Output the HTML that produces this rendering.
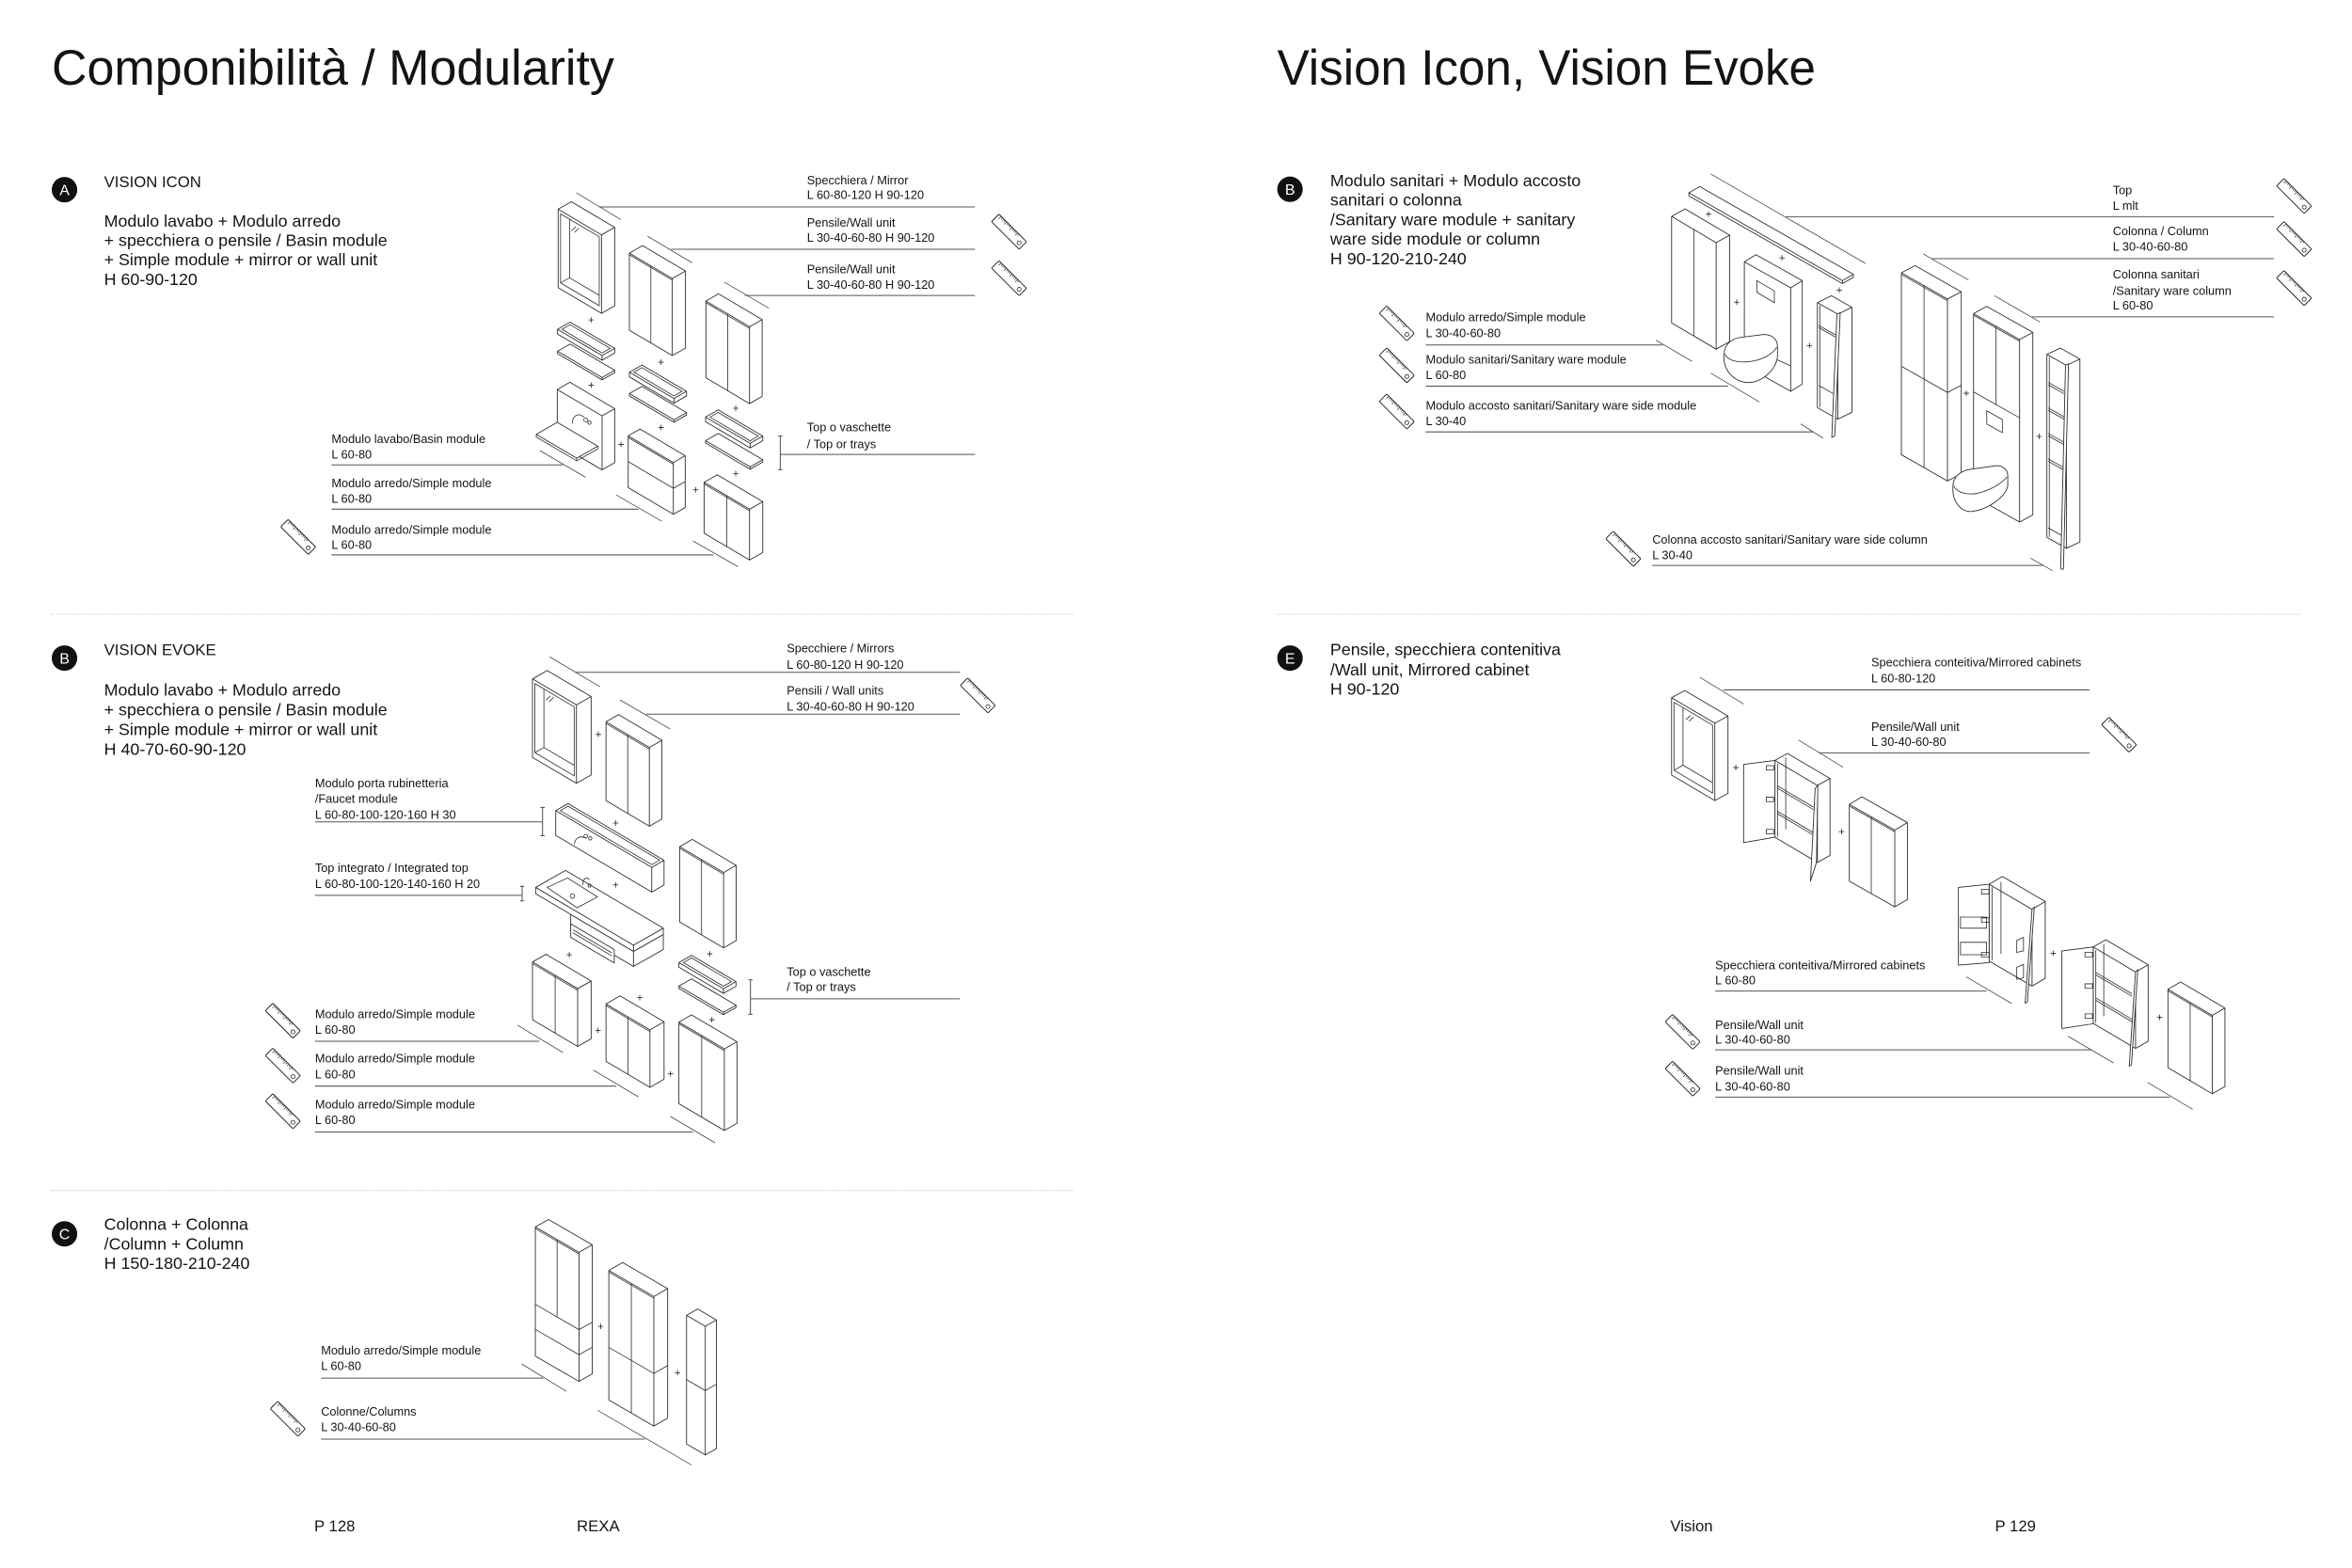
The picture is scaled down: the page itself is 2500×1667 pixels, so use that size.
<!DOCTYPE html>
<html><head><meta charset="utf-8"><style>
html,body{margin:0;padding:0;background:#fff}
svg{display:block}
text{font-family:"Liberation Sans",Arial,sans-serif;fill:#141414}
.s{font-size:8px}
.m{font-size:11.2px}
.bx{fill:#fff;stroke:#2b2b2b;stroke-width:.55;stroke-linejoin:round}
.ln{fill:none;stroke:#2b2b2b;stroke-width:.5}
.ld{fill:none;stroke:#555;stroke-width:.65}
.dm{fill:none;stroke:#444;stroke-width:.5}
.pl{fill:none;stroke:#222;stroke-width:.5}
.sep{fill:none;stroke:#9a9a9a;stroke-width:.5;stroke-dasharray:.6 1.2}
</style></head><body>
<svg width="2500" height="1667" viewBox="0 0 1568 1045.5" preserveAspectRatio="none" xmlns="http://www.w3.org/2000/svg">
<defs>
<g id="ru"><g transform="rotate(45)">
<rect x="-13" y="-3.5" width="26" height="7" rx="0.8" fill="#fff" stroke="#222" stroke-width="0.6"/>
<path d="M-11,-3.5v2.4M-9.7,-3.5v1.4M-8.4,-3.5v1.4M-7.1,-3.5v1.4M-5.8,-3.5v2.4M-4.5,-3.5v1.4M-3.2,-3.5v1.4M-1.9,-3.5v1.4M-0.6,-3.5v2.4M0.7,-3.5v1.4M2,-3.5v1.4M3.3,-3.5v1.4M4.6,-3.5v2.4M5.9,-3.5v1.4" stroke="#222" stroke-width="0.4" fill="none"/>
<circle cx="10" cy="0.5" r="1.3" fill="none" stroke="#222" stroke-width="0.5"/>
</g></g>
</defs>
<rect width="1568" height="1045.5" fill="#fff"/>

<!-- Titles -->
<text x="34.5" y="56.5" font-size="33" textLength="375" lengthAdjust="spacingAndGlyphs">Componibilità / Modularity</text>
<text x="851.5" y="56.5" font-size="33" textLength="359" lengthAdjust="spacingAndGlyphs">Vision Icon, Vision Evoke</text>

<!-- separators -->
<path class="sep" d="M34,409.6H716M851,409.6H1535M34,793.8H716"/>

<!-- Badges -->
<circle cx="43" cy="126.5" r="8.5" fill="#111"/><text x="43" y="130.2" font-size="10" text-anchor="middle" style="fill:#fff">A</text>
<circle cx="43" cy="438.8" r="8.5" fill="#111"/><text x="43" y="442.5" font-size="10" text-anchor="middle" style="fill:#fff">B</text>
<circle cx="43" cy="822.7" r="8.5" fill="#111"/><text x="43" y="826.4" font-size="10" text-anchor="middle" style="fill:#fff">C</text>
<circle cx="860" cy="126.2" r="8.5" fill="#111"/><text x="860" y="129.9" font-size="10" text-anchor="middle" style="fill:#fff">B</text>
<circle cx="860" cy="438.8" r="8.5" fill="#111"/><text x="860" y="442.5" font-size="10" text-anchor="middle" style="fill:#fff">E</text>

<!-- Section A text -->
<text x="69.4" y="124.7" font-size="10.5">VISION ICON</text>
<text class="m" x="69.4" y="151">Modulo lavabo + Modulo arredo</text>
<text class="m" x="69.4" y="164">+ specchiera o pensile / Basin module</text>
<text class="m" x="69.4" y="177">+ Simple module + mirror or wall unit</text>
<text class="m" x="69.4" y="190">H 60-90-120</text>
<text class="s" x="538" y="122.8">Specchiera / Mirror</text>
<text class="s" x="538" y="132.5">L 60-80-120 H 90-120</text>
<text class="s" x="538" y="151">Pensile/Wall unit</text>
<text class="s" x="538" y="161.2">L 30-40-60-80 H 90-120</text>
<text class="s" x="538" y="182.1">Pensile/Wall unit</text>
<text class="s" x="538" y="192.6">L 30-40-60-80 H 90-120</text>
<text class="s" x="538" y="287.5">Top o vaschette</text>
<text class="s" x="538" y="298.7">/ Top or trays</text>
<text class="s" x="221" y="295.3">Modulo lavabo/Basin module</text>
<text class="s" x="221" y="305.8">L 60-80</text>
<text class="s" x="221" y="324.9">Modulo arredo/Simple module</text>
<text class="s" x="221" y="335.3">L 60-80</text>
<text class="s" x="221" y="356">Modulo arredo/Simple module</text>
<text class="s" x="221" y="365.9">L 60-80</text>

<!-- Section B left text -->
<text x="69.4" y="436.8" font-size="10.5">VISION EVOKE</text>
<text class="m" x="69.4" y="463.7">Modulo lavabo + Modulo arredo</text>
<text class="m" x="69.4" y="476.9">+ specchiera o pensile / Basin module</text>
<text class="m" x="69.4" y="490.1">+ Simple module + mirror or wall unit</text>
<text class="m" x="69.4" y="503.3">H 40-70-60-90-120</text>
<text class="s" x="524.5" y="435">Specchiere / Mirrors</text>
<text class="s" x="524.5" y="445.8">L 60-80-120 H 90-120</text>
<text class="s" x="524.5" y="463.2">Pensili / Wall units</text>
<text class="s" x="524.5" y="473.7">L 30-40-60-80 H 90-120</text>
<text class="s" x="524.5" y="650.6">Top o vaschette</text>
<text class="s" x="524.5" y="660.6">/ Top or trays</text>
<text class="s" x="210" y="524.8">Modulo porta rubinetteria</text>
<text class="s" x="210" y="535.2">/Faucet module</text>
<text class="s" x="210" y="546">L 60-80-100-120-160 H 30</text>
<text class="s" x="210" y="581.4">Top integrato / Integrated top</text>
<text class="s" x="210" y="592.1">L 60-80-100-120-140-160 H 20</text>
<text class="s" x="210" y="678.8">Modulo arredo/Simple module</text>
<text class="s" x="210" y="689.3">L 60-80</text>
<text class="s" x="210" y="708.5">Modulo arredo/Simple module</text>
<text class="s" x="210" y="719">L 60-80</text>
<text class="s" x="210" y="739.1">Modulo arredo/Simple module</text>
<text class="s" x="210" y="749.6">L 60-80</text>

<!-- Section C text -->
<text class="m" x="69.4" y="820">Colonna + Colonna</text>
<text class="m" x="69.4" y="833.1">/Column + Column</text>
<text class="m" x="69.4" y="846.1">H 150-180-210-240</text>
<text class="s" x="214" y="903.2">Modulo arredo/Simple module</text>
<text class="s" x="214" y="913.6">L 60-80</text>
<text class="s" x="214" y="944">Colonne/Columns</text>
<text class="s" x="214" y="954.4">L 30-40-60-80</text>

<!-- Right B text -->
<text class="m" x="886.8" y="124.1">Modulo sanitari + Modulo accosto</text>
<text class="m" x="886.8" y="137.1">sanitari o colonna</text>
<text class="m" x="886.8" y="150.1">/Sanitary ware module + sanitary</text>
<text class="m" x="886.8" y="163.1">ware side module or column</text>
<text class="m" x="886.8" y="176.1">H 90-120-210-240</text>
<text class="s" x="1408.5" y="129.4">Top</text>
<text class="s" x="1408.5" y="139.8">L mlt</text>
<text class="s" x="1408.5" y="156.8">Colonna / Column</text>
<text class="s" x="1408.5" y="167.2">L 30-40-60-80</text>
<text class="s" x="1408.5" y="185.5">Colonna sanitari</text>
<text class="s" x="1408.5" y="196.5">/Sanitary ware column</text>
<text class="s" x="1408.5" y="206.4">L 60-80</text>
<text class="s" x="950.5" y="214.3">Modulo arredo/Simple module</text>
<text class="s" x="950.5" y="224.7">L 30-40-60-80</text>
<text class="s" x="950.5" y="242.3">Modulo sanitari/Sanitary ware module</text>
<text class="s" x="950.5" y="252.7">L 60-80</text>
<text class="s" x="950.5" y="273.1">Modulo accosto sanitari/Sanitary ware side module</text>
<text class="s" x="950.5" y="283.5">L 30-40</text>
<text class="s" x="1101.5" y="362.5">Colonna accosto sanitari/Sanitary ware side column</text>
<text class="s" x="1101.5" y="372.9">L 30-40</text>

<!-- E text -->
<text class="m" x="886.8" y="436.8">Pensile, specchiera contenitiva</text>
<text class="m" x="886.8" y="450.3">/Wall unit, Mirrored cabinet</text>
<text class="m" x="886.8" y="463.2">H 90-120</text>
<text class="s" x="1247.5" y="444.3">Specchiera conteitiva/Mirrored cabinets</text>
<text class="s" x="1247.5" y="455">L 60-80-120</text>
<text class="s" x="1247.5" y="487.4">Pensile/Wall unit</text>
<text class="s" x="1247.5" y="497.4">L 30-40-60-80</text>
<text class="s" x="1143.5" y="646.2">Specchiera conteitiva/Mirrored cabinets</text>
<text class="s" x="1143.5" y="656.4">L 60-80</text>
<text class="s" x="1143.5" y="686.1">Pensile/Wall unit</text>
<text class="s" x="1143.5" y="696">L 30-40-60-80</text>
<text class="s" x="1143.5" y="716.7">Pensile/Wall unit</text>
<text class="s" x="1143.5" y="727.2">L 30-40-60-80</text>

<!-- footer -->
<text x="209.5" y="1021" font-size="10.5">P 128</text>
<text x="384.5" y="1021" font-size="10.5">REXA</text>
<text x="1113.5" y="1021" font-size="10.5">Vision</text>
<text x="1330" y="1021" font-size="10.5">P 129</text>

<!-- Leader lines -->
<path class="ld" d="M399.3,138H650M447.4,166.2H650M496.5,197H650M520.2,303H650M221,310H375.3M221,339.5H425.4M221,370H475.6
M383.6,448.3H640M430.7,476.2H640M210,548H361.7M210,597H348.1M500.3,666H640M210,694.3H359.6M210,724.2H410.8M210,754.8H462
M214,918.9H362M214,959.6H430
M1190.7,144.5H1516M1287.9,172.5H1516M1354.8,211.3H1516M950.5,230H1108.3M950.5,257.5H1152M950.5,288H1208.4M1101.5,377H1362.1
M1148.9,460H1393M1212.6,502H1393M1143.5,660.8H1324.4M1143.5,700H1394.4M1143.5,731.5H1446.7"/>
<!-- brackets -->
<path class="ld" d="M520.2,290.6V313.2M518.8,290.6h2.8M518.8,313.2h2.8
M361.7,538.4V557.2M360.3,538.4h2.8M360.3,557.2h2.8
M348.1,591V600.7M346.7,591h2.8M346.7,600.7h2.8
M500.3,653.3V676.3M498.9,653.3h2.8M498.9,676.3h2.8"/>

<!-- Dimension lines -->
<path class="dm" d="M384.3,128.6L413.9,146.4M431.7,157.5L461.4,175.2M483,188.2L512.6,205.5M360,300.5L390.3,318.2M410.8,330L441.1,347.5M462,360.7L491.9,377.8
M366.5,438L400,457.9M413.3,466.7L446.8,486.1M345,683.6L375.3,701.8M395.6,713.5L425.5,731.3M446.8,744.3L476.7,762
M347.7,909.4L377.7,927.8M398.5,940.4L461,976.8
M1140.5,116L1243.6,175.6M1103.9,226.8L1128,240.9M1140.5,248.8L1172.9,268M1200.5,282.7L1215.3,292.1M1282.2,169.3L1312.3,186.7M1329.7,197.2L1360,214.7M1353.7,372.2L1368.4,380.5
M1133.2,451.6L1162.4,469.4M1199,493.4L1228.7,511.6M1310.8,651.3L1341.1,669.1M1378.8,691L1409.1,708.8M1431.7,721.7L1461.8,739.7"/>

<!-- ===== Section A drawings ===== -->
<path class="bx" d="M372.1,139.5 l8.8,-5 l28.9,17.1 l0,52.3 l-8.8,5 l-28.9,-17.1 z l28.9,17.1 l0,52.3 m0,-52.3 l8.8,-5"/>
<path class="ln" d="M373.7,142.6 l25.8,15.2 l0,46 l-25.8,-15.2 z m6,3.5 l0,39.1 l19.8,11.7 m-19.8,-11.7 l-6,3.4 M381,154 l3,-3 m-1,4 l3,-3"/>
<path class="bx" d="M419.6,168.8 l8.8,-5 l28.6,16.9 l0,51.4 l-8.8,5 l-28.6,-16.9 z l28.6,16.9 l0,51.4 m0,-51.4 l8.8,-5"/>
<path class="ln" d="M433.9,177.2 l0,51.4 M419.6,169.9 l28.6,16.9"/>
<path class="bx" d="M470.6,200.7 l8.4,-4.8 l29.1,17.2 l0,51.2 l-8.4,4.8 l-29.1,-17.2 z l29.1,17.2 l0,51.2 m0,-51.2 l8.4,-4.8"/>
<path class="ln" d="M485.2,209.3 l0,51.2 M470.6,201.8 l29.1,17.2"/>
<!-- trays A -->
<path class="bx" d="M371.7,219.6 l8.4,-4.8 l29.7,17.5 l0,3.1 l-8.4,4.8 l-29.7,-17.5 z l29.7,17.5 l0,3.1 m0,-3.1 l8.4,-4.8"/>
<path class="ln" d="M374.7,219.6 l5.4,-3.1 l26.7,15.8 l-5.4,3.1 z"/>
<path class="bx" d="M371.7,234.2 l8.4,-4.8 l29.7,17.5 l0,1.6 l-8.4,4.8 l-29.7,-17.5 z l29.7,17.5 l0,1.6 m0,-1.6 l8.4,-4.8"/>
<path class="bx" d="M419.6,248.2 l8.4,-4.8 l29.7,17.5 l0,3.1 l-8.4,4.8 l-29.7,-17.5 z l29.7,17.5 l0,3.1 m0,-3.1 l8.4,-4.8"/>
<path class="ln" d="M422.6,248.2 l5.4,-3.1 l26.7,15.8 l-5.4,3.1 z"/>
<path class="bx" d="M419.6,262.4 l8.4,-4.8 l29.7,17.5 l0,1.6 l-8.4,4.8 l-29.7,-17.5 z l29.7,17.5 l0,1.6 m0,-1.6 l8.4,-4.8"/>
<path class="bx" d="M470.4,278.1 l8.4,-4.8 l29.7,17.5 l0,3.1 l-8.4,4.8 l-29.7,-17.5 z l29.7,17.5 l0,3.1 m0,-3.1 l8.4,-4.8"/>
<path class="ln" d="M473.4,278.1 l5.4,-3.1 l26.7,15.8 l-5.4,3.1 z"/>
<path class="bx" d="M470.4,293.8 l8.4,-4.8 l29.7,17.5 l0,1.6 l-8.4,4.8 l-29.7,-17.5 z l29.7,17.5 l0,1.6 m0,-1.6 l8.4,-4.8"/>
<!-- basin module -->
<path class="bx" d="M371.5,259.7 l8.4,-4.8 l29.9,17.6 l0,36 l-8.4,4.8 l-29.9,-17.6 z l29.9,17.6 l0,36 m0,-36 l8.4,-4.8"/>
<path class="ln" d="M381.5,282.5 c0,-4 2,-6 5,-6 l3,1.5"/>
<circle cx="390.5" cy="280" r="1.3" class="ln"/><circle cx="393" cy="281.8" r="1.1" class="ln"/>
<path class="bx" d="M357.5,289.6 L371.5,281.6 L398.5,297.5 L384.5,305.5 Z"/>
<path class="ln" d="M357.5,289.6 l0,1.8 l27,15.9 l14,-8 l0,-1.8 M384.5,305.5 l0,1.8"/>
<!-- simple modules A -->
<path class="bx" d="M418.8,290.6 l7.9,-4.5 l30.1,17.8 l0,34.5 l-7.9,4.5 l-30.1,-17.8 z l30.1,17.8 l0,34.5 m0,-34.5 l7.9,-4.5"/>
<path class="ln" d="M418.8,307.8 l30.1,17.8 l7.9,-4.5 M418.8,291.7 l30.1,17.8"/>
<path class="bx" d="M469.4,321.6 l8.8,-5 l30.3,17.9 l0,33.9 l-8.8,5 l-30.3,-17.9 z l30.3,17.9 l0,33.9 m0,-33.9 l8.8,-5"/>
<path class="ln" d="M484.5,330.5 l0,33.9 M469.4,322.7 l30.3,17.9"/>

<!-- ===== Section B left drawings ===== -->
<path class="bx" d="M355,452.7 l9.8,-5.6 l29.3,17.3 l0,52.3 l-9.8,5.6 l-29.3,-17.3 z l29.3,17.3 l0,52.3 m0,-52.3 l9.8,-5.6"/>
<path class="ln" d="M356.6,455.8 l26.2,15.5 l0,46 l-26.2,-15.5 z m6,3.5 l0,39.1 l20.2,11.9 m-20.2,-11.9 l-6,3.4 M364,467 l3,-3 m-1,4 l3,-3"/>
<path class="bx" d="M404,481.3 l8.4,-4.8 l28.9,17.1 l0,52.5 l-8.4,4.8 l-28.9,-17.1 z l28.9,17.1 l0,52.5 m0,-52.5 l8.4,-4.8"/>
<path class="ln" d="M418.5,489.8 l0,52.5 M404,482.4 l28.9,17.1"/>
<path class="bx" d="M370.5,540.5 l8.2,-4.7 l64,37.8 l0,16.5 l-8.2,4.7 l-64,-37.8 z l64,37.8 l0,16.5 m0,-16.5 l8.2,-4.7"/>
<path class="ln" d="M373.5,540.5 l5.2,-3 l61,36 l-5.2,3 z M383,563 c0,-3 2,-5 5,-5 l3,1"/>
<circle cx="390.5" cy="557.5" r="1.2" class="ln"/><circle cx="393.5" cy="559" r="1.1" class="ln"/>
<path class="bx" d="M453.1,564.5 l8.4,-4.8 l29.3,17.3 l0,50.2 l-8.4,4.8 l-29.3,-17.3 z l29.3,17.3 l0,50.2 m0,-50.2 l8.4,-4.8"/>
<path class="ln" d="M467.7,573.1 l0,50.2 M453.1,565.6 l29.3,17.3"/>
<!-- body under top -->
<path class="bx" d="M380.5,609.7 l19.9,-11.3 l41.8,24.7 l0,10 l-19.9,11.3 l-41.8,-24.7 z l41.8,24.7 l0,10 m0,-10 l19.9,-11.3"/>
<path class="bx" d="M380.5,616 l0,9 l29,17.1 l0,-9 z"/>
<path class="ln" d="M382,620 l26,15.4 M382,622 l26,15.4"/>
<path class="bx" d="M357.1,591.7 l19.9,-11.3 l65.2,38.5 l0,4.2 l-19.9,11.3 l-65.2,-38.5 z l65.2,38.5 l0,4.2 m0,-4.2 l19.9,-11.3"/>
<path class="ln" d="M364.8,591.7 L378.4,585.4 L398.3,598 L384.7,605.3 Z M388.5,590 c0,-3 1,-4.5 3,-4.5 l1.5,1"/>
<circle cx="381.6" cy="597.5" r="1.5" class="ln"/><circle cx="393" cy="590.5" r="1" class="ln"/>
<!-- tray B -->
<path class="bx" d="M452.6,641.8 l8.4,-4.8 l29.7,17.5 l0,3.1 l-8.4,4.8 l-29.7,-17.5 z l29.7,17.5 l0,3.1 m0,-3.1 l8.4,-4.8"/>
<path class="ln" d="M455.6,641.8 l5.4,-3.1 l26.7,15.8 l-5.4,3.1 z"/>
<path class="bx" d="M452.6,657.5 l8.4,-4.8 l29.7,17.5 l0,1.6 l-8.4,4.8 l-29.7,-17.5 z l29.7,17.5 l0,1.6 m0,-1.6 l8.4,-4.8"/>
<path class="bx" d="M355,641.4 l9,-5.1 l30.1,17.8 l0,38.5 l-9,5.1 l-30.1,-17.8 z l30.1,17.8 l0,38.5 m0,-38.5 l9,-5.1"/>
<path class="ln" d="M370.1,650.3 l0,38.5 M355,642.5 l30.1,17.8"/>
<path class="bx" d="M404,669.4 l9.4,-5.4 l29.3,17.3 l0,38.3 l-9.4,5.4 l-29.3,-17.3 z l29.3,17.3 l0,38.3 m0,-38.3 l9.4,-5.4"/>
<path class="ln" d="M418.6,678 l0,38.3 M404,670.5 l29.3,17.3"/>
<path class="bx" d="M452.6,681.5 l8.4,-4.8 l30.3,17.9 l0,54.4 l-8.4,4.8 l-30.3,-17.9 z l30.3,17.9 l0,54.4 m0,-54.4 l8.4,-4.8"/>
<path class="ln" d="M467.8,690.4 l0,54.4 M452.6,682.6 l30.3,17.9"/>

<!-- ===== Section C drawings ===== -->
<path class="bx" d="M356.9,818.1 l8.8,-5 l29.1,16.9 l0,86.1 l-8.8,5 l-29.1,-16.9 z l29.1,16.9 l0,86.1 m0,-86.1 l8.8,-5"/>
<path class="ln" d="M371.4,826.5 l0,51.6 M356.9,869.7 l29.1,16.9 l8.8,-5 M356.9,886.4 l29.1,16.9 l8.8,-5 M356.9,819.2 l29.1,16.9"/>
<path class="bx" d="M405.9,847.1 l9.2,-5.3 l30,17.4 l0,86.4 l-9.2,5.3 l-30,-17.4 z l30,17.4 l0,86.4 m0,-86.4 l9.2,-5.3"/>
<path class="ln" d="M420.9,855.8 l0,86.4 M405.9,898.4 l30,17.4 l9.2,-5.3 M405.9,848.2 l30,17.4"/>
<path class="bx" d="M457.7,877 l7.4,-4.2 l12.5,7.3 l0,85.8 l-7.4,4.2 l-12.5,-7.3 z l12.5,7.3 l0,85.8 m0,-85.8 l7.4,-4.2"/>
<path class="ln" d="M457.7,919.9 l12.5,7.3 l7.4,-4.2"/>

<!-- ===== Right B drawings ===== -->
<path class="bx" d="M1125.9,128.6 l7.3,-4.2 l102.4,58.5 l0,2 l-7.3,4.2 l-102.4,-58.5 z l102.4,58.5 l0,2 m0,-2 l7.3,-4.2"/>
<path class="bx" d="M1114.4,144.3 l9,-5 l29.7,17.5 l0,71 l-9,5 l-29.7,-17.5 z l29.7,17.5 l0,71 m0,-71 l9,-5"/>
<path class="ln" d="M1129.2,153 l0,71"/>
<path class="bx" d="M1162.9,174.6 l7.7,-4.8 l30.9,17.3 l0,69 l-7.7,4.8 l-30.9,-17.3 z l30.9,17.3 l0,69 m0,-69 l7.7,-4.8"/>
<path class="ln" d="M1171.2,187.1 L1182.9,194 L1182.9,201.8 L1171.2,194.9 Z"/>
<path class="bx" d="M1149.5,236 C1148,248 1158,256 1167,255 C1176,254 1184,246 1185,238 L1185,231 C1185,226 1181,223 1176,223 L1160,225 C1154,226 1149.5,230 1149.5,236 Z"/>
<path class="ln" d="M1150,236 C1152,241 1160,242 1167,241 C1175,240 1182,236 1184.5,231.5 M1185,240 L1193.8,244"/>
<path class="bx" d="M1211.6,201.8 l9.4,-4.6 l13.6,7.7 l0,70 l-9.4,4.6 l-13.6,-7.7 z l13.6,7.7 l0,70 m0,-70 l9.4,-4.6"/>
<path class="ln" d="M1213.2,203.5 l0,68 M1212.5,217 l11,6.2 M1212.5,218.5 l11,6.2 M1212.5,257 l11,6.2"/>
<path class="bx" d="M1224.6,209.5 l2.2,-1 l-3.6,82 l-2,1.2 z"/>
<path class="bx" d="M1267.6,181.9 l9.2,-4.8 l30.7,17.5 l0,121.3 l-9.2,4.8 l-30.7,-17.5 z l30.7,17.5 l0,121.3 m0,-121.3 l9.2,-4.8"/>
<path class="ln" d="M1282.7,190.5 l0,121.3 M1267.6,244.2 l30.7,17.5 l9.2,-4.8 M1267.6,183 l30.7,17.5"/>
<path class="bx" d="M1315.7,209.1 l8.8,-4.8 l30.7,17.3 l0,121.7 l-8.8,4.8 l-30.7,-17.3 z l30.7,17.3 l0,121.7 m0,-121.7 l8.8,-4.8"/>
<path class="ln" d="M1330.7,217.6 l0,52.2 M1315.7,261.3 l30.7,17.3 M1315.7,210.2 l30.7,17.3 M1324.5,273.9 L1334.9,279.7 L1334.9,288.5 L1324.5,282.7 Z"/>
<path class="bx" d="M1302,324 C1301,335 1308,342 1315,341 C1324,340 1337,332 1338.5,324 L1338.5,317 C1338.5,313 1335,310.5 1331,310.5 L1313,313 C1307,314 1302,318 1302,324 Z"/>
<path class="ln" d="M1302.5,324 C1305,329 1312,330 1318,329 C1326,327 1334,323 1338,318"/>
<path class="bx" d="M1364.6,236.3 l9,-4.2 l13,7.3 l0,122 l-9,4.2 l-13,-7.3 z l13,7.3 l0,122 m0,-122 l9,-4.2"/>
<path class="ln" d="M1366.2,238 l0,120 M1365.5,255 l10.5,5.9 M1365.5,256.6 l10.5,5.9 M1365.5,272 l10.5,5.9 M1365.5,273.6 l10.5,5.9 M1365.5,289 l10.5,5.9 M1365.5,290.6 l10.5,5.9 M1365.5,306 l10.5,5.9 M1365.5,307.6 l10.5,5.9 M1365.5,352 l10.5,5.9"/>
<path class="bx" d="M1377,243.6 l2,-1 l-3.4,137 l-1.8,-0.3 z"/>

<!-- ===== E drawings ===== -->
<path class="bx" d="M1114.4,465.2 l8.8,-4.8 l28.8,17 l0,51.6 l-8.8,4.8 l-28.8,-17 z l28.8,17 l0,51.6 m0,-51.6 l8.8,-4.8"/>
<path class="ln" d="M1116,468.3 l25.7,15.2 l0,45.3 l-25.7,-15.2 z m6,3.5 l0,38.4 l19.7,11.6 m-19.7,-11.6 l-6,3.4 M1124,480 l3,-3 m-1,4 l3,-3"/>
<!-- open cabinet 1 -->
<path class="bx" d="M1183.3,507 l8.4,-4.6 l28.3,16.7 l0,51.3 l-8.4,4.6 l-28.3,-16.7 z l28.3,16.7 l0,51.3 m0,-51.3 l8.4,-4.6"/>
<path class="ln" d="M1185,509 l0,49 M1190.5,505 l0,48 M1185,524 l24,14.2 M1185,525.6 l24,14.2 M1185,541 l24,14.2 M1185,542.6 l24,14.2"/>
<path class="bx" d="M1162.4,509.7 L1183.3,507 L1183.3,558.2 L1162.4,561.8 Z"/>
<path class="ln" d="M1177.5,510.5 h5 v3 h-5 z M1177.5,531.5 h5 v3 h-5 z M1177.5,553 h5 v3 h-5 z"/>
<path class="bx" d="M1210.1,525.8 L1211.9,523.7 L1211,575 L1207,587.5 Z"/>
<!-- closed E3 -->
<path class="bx" d="M1232.9,536.3 l8.4,-5 l30.3,17.2 l0,51.2 l-8.4,5 l-30.3,-17.2 z l30.3,17.2 l0,51.2 m0,-51.2 l8.4,-5"/>
<path class="ln" d="M1247.5,544.6 l0,51.2 M1232.9,537.4 l30.3,17.2"/>
<!-- open cabinet 2 -->
<path class="bx" d="M1326.1,589.6 l8.8,-5.2 l28.6,16.7 l0,51.2 l-8.8,5.2 l-28.6,-16.7 z l28.6,16.7 l0,51.2 m0,-51.2 l8.8,-5.2"/>
<path class="ln" d="M1328,591.5 l0,49 M1334,588 l0,48 M1344.5,627 l4.5,-2 v9 l-4.5,1 z M1344.5,645 l4.5,-2 v9 l-4.5,1 z"/>
<path class="bx" d="M1305.6,591.7 L1326.1,589.6 L1326.1,641.9 L1305.6,643.5 Z"/>
<path class="ln" d="M1307,611.5 h17.4 v7.4 h-17.4 z M1307,628.3 h17.4 v8.3 h-17.4 z M1321,593 h5 v3 h-5 z M1321,612 h5 v3 h-5 z M1321,635 h5 v3 h-5 z"/>
<path class="bx" d="M1354.7,606.3 L1356.2,604.8 L1351.6,668 L1350.1,669 Z"/>
<!-- open cabinet 3 -->
<path class="bx" d="M1395.5,631.4 l8.4,-4.8 l28.2,16.7 l0,51 l-8.4,4.8 l-28.2,-16.7 z l28.2,16.7 l0,51 m0,-51 l8.4,-4.8"/>
<path class="ln" d="M1397.2,633.4 l0,48.6 M1402.5,629.5 l0,48 M1397.2,648.4 l24,14.2 M1397.2,650 l24,14.2 M1397.2,665.4 l24,14.2 M1397.2,667 l24,14.2"/>
<path class="bx" d="M1374.6,634.1 L1395.5,631.4 L1395.5,682.6 L1374.6,685.8 Z"/>
<path class="ln" d="M1390,635 h5 v3 h-5 z M1390,656 h5 v3 h-5 z M1390,676 h5 v3 h-5 z"/>
<path class="bx" d="M1423.7,648.1 L1425.2,646.6 L1421,710 L1419.5,710.9 Z"/>
<!-- closed E6 -->
<path class="bx" d="M1445.3,659.6 l8.4,-4.8 l29.6,17.4 l0,52.3 l-8.4,4.8 l-29.6,-17.4 z l29.6,17.4 l0,52.3 m0,-52.3 l8.4,-4.8"/>
<path class="ln" d="M1460.1,668.3 l0,52.3 M1445.3,660.7 l29.6,17.4"/>

<!-- Plus signs -->
<path class="pl" d="M392.3,213.3h3.6M394.1,211.5v3.6M392.3,256.8h3.6M394.1,255v3.6M438.9,241.5h3.6M440.7,239.7v3.6M488.7,272.2h3.6M490.5,270.4v3.6M488.7,315.7h3.6M490.5,313.9v3.6M438.9,285h3.6M440.7,283.2v3.6M412.2,296.3h3.6M414,294.5v3.6M461.9,326.6h3.6M463.7,324.8v3.6
M397.1,489.7h3.6M398.9,487.9v3.6M408.6,548.8h3.6M410.4,547v3.6M408.6,590h3.6M410.4,588.2v3.6M377.7,636.6h3.6M379.5,634.8v3.6M396.9,687h3.6M398.7,685.2v3.6M424.7,665.2h3.6M426.5,663.4v3.6M445.2,716h3.6M447,714.2v3.6M472.8,679.9h3.6M474.6,678.1v3.6M471.3,636h3.6M473.1,634.2v3.6
M398.6,884.4h3.6M400.4,882.6v3.6M449.9,915.3h3.6M451.7,913.5v3.6
M1137.2,142.8h3.6M1139,141v3.6M1186.2,171.9h3.6M1188,170.1v3.6M1156,201.5h3.6M1157.8,199.7v3.6M1224.4,193.4h3.6M1226.2,191.6v3.6M1204.5,230.4h3.6M1206.3,228.6v3.6M1309.1,262.2h3.6M1310.9,260.4v3.6M1357.6,291h3.6M1359.4,289.2v3.6
M1155.4,511.8h3.6M1157.2,510v3.6M1225.9,554.5h3.6M1227.7,552.7v3.6M1367.1,635.6h3.6M1368.9,633.8v3.6M1438,678.4h3.6M1439.8,676.6v3.6"/>

<!-- Rulers -->
<use href="#ru" transform="translate(672.7,154.5)"/>
<use href="#ru" transform="translate(672.7,185.5)"/>
<use href="#ru" transform="translate(198.8,358)"/>
<use href="#ru" transform="translate(651.9,463.7)"/>
<use href="#ru" transform="translate(188.6,680.6)"/>
<use href="#ru" transform="translate(188.6,710.5)"/>
<use href="#ru" transform="translate(188.6,740.9)"/>
<use href="#ru" transform="translate(191.9,946)"/>
<use href="#ru" transform="translate(1529.4,130.7)"/>
<use href="#ru" transform="translate(1529.4,159.4)"/>
<use href="#ru" transform="translate(1529.4,192.1)"/>
<use href="#ru" transform="translate(931.2,215.6)"/>
<use href="#ru" transform="translate(931.2,243.6)"/>
<use href="#ru" transform="translate(931.2,274.4)"/>
<use href="#ru" transform="translate(1082.2,365.9)"/>
<use href="#ru" transform="translate(1412.7,489.9)"/>
<use href="#ru" transform="translate(1121.8,688)"/>
<use href="#ru" transform="translate(1121.8,719.2)"/>
</svg>
</body></html>
